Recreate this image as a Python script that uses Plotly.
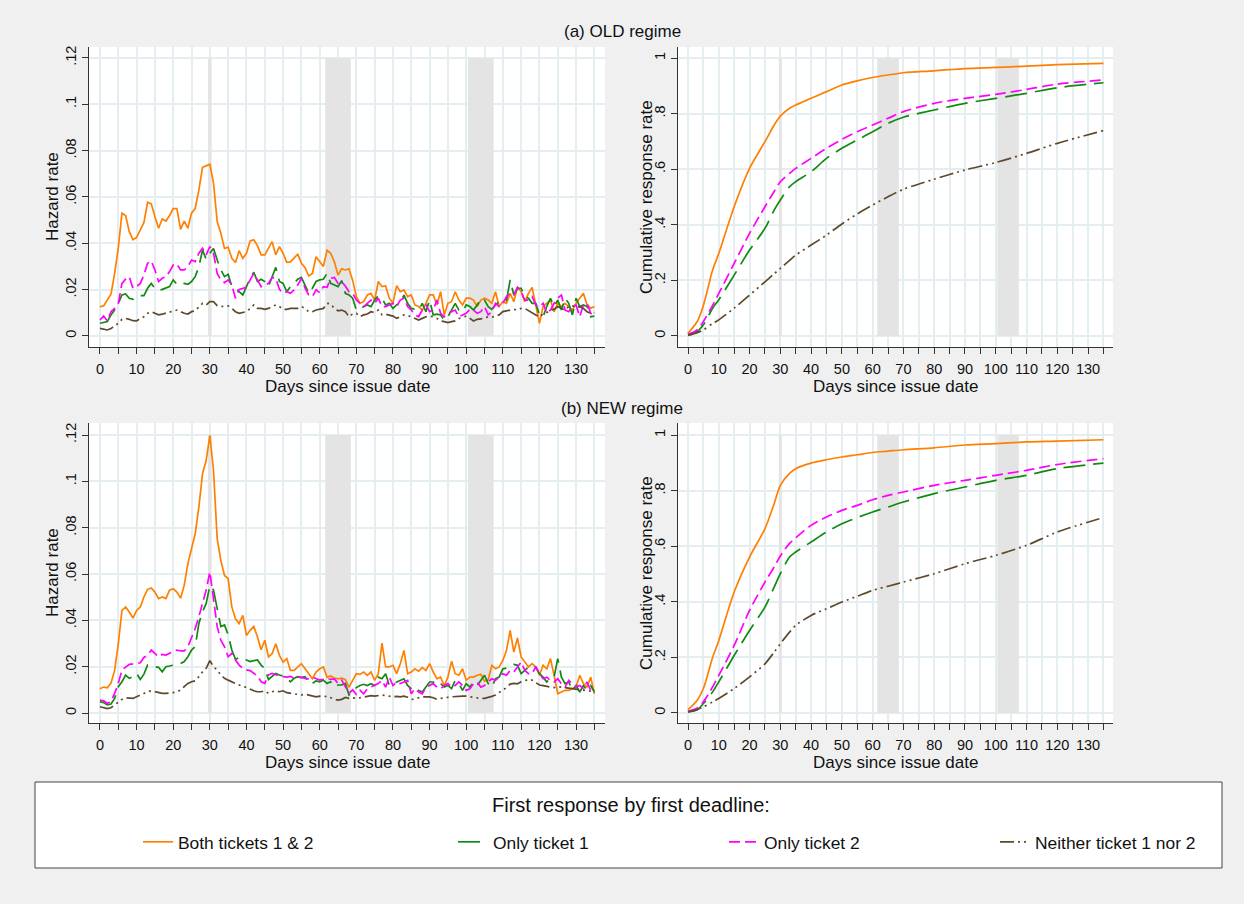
import plotly.graph_objects as go

# ---------------- data ----------------
days = list(range(136))

# Hazard rates, OLD regime
old_both_haz = [0.0127, 0.0130, 0.0155, 0.0180, 0.0270, 0.0380, 0.0530, 0.0520, 0.0450, 0.0415,
                0.0425, 0.0460, 0.0490, 0.0577, 0.0570, 0.0515, 0.0465, 0.0505, 0.0496, 0.0520,
                0.0550, 0.0550, 0.0460, 0.0496, 0.0465, 0.0530, 0.0550, 0.0630, 0.0728, 0.0734,
                0.0741, 0.0660, 0.0494, 0.0443, 0.0378, 0.0383, 0.0335, 0.0317, 0.0368, 0.0335,
                0.0357, 0.0410, 0.0415, 0.0390, 0.0350, 0.0350, 0.0378, 0.0407, 0.0350, 0.0386,
                0.0357, 0.0318, 0.0320, 0.0335, 0.0353, 0.0314, 0.0295, 0.0259, 0.0270, 0.0342,
                0.0320, 0.0300, 0.0370, 0.0357, 0.0320, 0.0263, 0.0290, 0.0285, 0.0290, 0.0240,
                0.0170, 0.0141, 0.0148, 0.0177, 0.0184, 0.0155, 0.0235, 0.0213, 0.0216, 0.0163,
                0.0141, 0.0217, 0.0191, 0.0199, 0.0170, 0.0177, 0.0134, 0.0127, 0.0112, 0.0141,
                0.0177, 0.0177, 0.0134, 0.0191, 0.0091, 0.0141, 0.0148, 0.0191, 0.0155, 0.0134,
                0.0163, 0.0163, 0.0155, 0.0127, 0.0155, 0.0163, 0.0155, 0.0141, 0.0191, 0.0127,
                0.0148, 0.0141, 0.0184, 0.0148, 0.0210, 0.0191, 0.0148, 0.0184, 0.0210, 0.0127,
                0.0055, 0.0127, 0.0141, 0.0155, 0.0105, 0.0141, 0.0127, 0.0141, 0.0127, 0.0112,
                0.0141, 0.0163, 0.0184, 0.0134, 0.0120, 0.0127]
old_t1_haz = [0.0055, 0.0058, 0.0062, 0.0091, 0.0112, 0.0141, 0.0177, 0.0181, 0.0163, 0.0158,
              0.0170, 0.0174, 0.0174, 0.0206, 0.0227, 0.0206, 0.0196, 0.0201, 0.0206, 0.0213,
              0.0242, 0.0223, 0.0220, 0.0227, 0.0223, 0.0235, 0.0256, 0.0299, 0.0371, 0.0331,
              0.0357, 0.0378, 0.0328, 0.0285, 0.0256, 0.0266, 0.0213, 0.0206, 0.0191, 0.0177,
              0.0213, 0.0249, 0.0275, 0.0235, 0.0245, 0.0235, 0.0213, 0.0253, 0.0296, 0.0235,
              0.0227, 0.0191, 0.0213, 0.0227, 0.0245, 0.0253, 0.0220, 0.0184, 0.0206, 0.0235,
              0.0242, 0.0245, 0.0270, 0.0227, 0.0220, 0.0213, 0.0239, 0.0184, 0.0177, 0.0163,
              0.0112, 0.0115, 0.0127, 0.0134, 0.0127, 0.0155, 0.0173, 0.0163, 0.0134, 0.0141,
              0.0119, 0.0134, 0.0141, 0.0177, 0.0141, 0.0119, 0.0115, 0.0112, 0.0141, 0.0105,
              0.0155, 0.0091, 0.0094, 0.0091, 0.0069, 0.0083, 0.0112, 0.0141, 0.0112, 0.0105,
              0.0134, 0.0127, 0.0112, 0.0134, 0.0163, 0.0155, 0.0127, 0.0115, 0.0134, 0.0148,
              0.0155, 0.0153, 0.0242, 0.0177, 0.0206, 0.0206, 0.0170, 0.0163, 0.0141, 0.0141,
              0.0091, 0.0083, 0.0127, 0.0163, 0.0127, 0.0155, 0.0112, 0.0163, 0.0141, 0.0091,
              0.0163, 0.0127, 0.0134, 0.0127, 0.0083, 0.0086]
old_t2_haz = [0.0069, 0.0086, 0.0065, 0.0105, 0.0119, 0.0141, 0.0227, 0.0245, 0.0256, 0.0206,
              0.0213, 0.0227, 0.0263, 0.0314, 0.0324, 0.0285, 0.0235, 0.0249, 0.0256, 0.0278,
              0.0306, 0.0311, 0.0285, 0.0285, 0.0299, 0.0328, 0.0321, 0.0357, 0.0378, 0.0350,
              0.0386, 0.0357, 0.0270, 0.0242, 0.0230, 0.0242, 0.0220, 0.0163, 0.0201, 0.0206,
              0.0210, 0.0242, 0.0270, 0.0242, 0.0213, 0.0220, 0.0227, 0.0253, 0.0249, 0.0201,
              0.0184, 0.0191, 0.0184, 0.0199, 0.0220, 0.0249, 0.0206, 0.0177, 0.0170, 0.0199,
              0.0187, 0.0213, 0.0210, 0.0249, 0.0253, 0.0227, 0.0233, 0.0216, 0.0191, 0.0184,
              0.0155, 0.0141, 0.0127, 0.0141, 0.0155, 0.0141, 0.0163, 0.0127, 0.0127, 0.0134,
              0.0141, 0.0127, 0.0155, 0.0163, 0.0127, 0.0112, 0.0091, 0.0083, 0.0112, 0.0134,
              0.0105, 0.0112, 0.0155, 0.0098, 0.0083, 0.0098, 0.0105, 0.0112, 0.0083, 0.0091,
              0.0098, 0.0115, 0.0112, 0.0098, 0.0105, 0.0127, 0.0091, 0.0105, 0.0141, 0.0127,
              0.0141, 0.0170, 0.0184, 0.0177, 0.0210, 0.0191, 0.0155, 0.0155, 0.0170, 0.0134,
              0.0127, 0.0141, 0.0098, 0.0112, 0.0141, 0.0163, 0.0177, 0.0112, 0.0105, 0.0127,
              0.0134, 0.0083, 0.0134, 0.0141, 0.0098, 0.0083]
old_none_haz = [0.0033, 0.0029, 0.0026, 0.0032, 0.0043, 0.0055, 0.0072, 0.0076, 0.0072, 0.0066,
                0.0065, 0.0076, 0.0083, 0.0098, 0.0105, 0.0098, 0.0091, 0.0094, 0.0098, 0.0105,
                0.0109, 0.0112, 0.0105, 0.0098, 0.0095, 0.0105, 0.0109, 0.0127, 0.0141, 0.0134,
                0.0148, 0.0148, 0.0131, 0.0127, 0.0127, 0.0130, 0.0119, 0.0105, 0.0098, 0.0101,
                0.0105, 0.0119, 0.0134, 0.0119, 0.0119, 0.0115, 0.0119, 0.0127, 0.0134, 0.0127,
                0.0115, 0.0115, 0.0119, 0.0119, 0.0119, 0.0127, 0.0119, 0.0105, 0.0105, 0.0112,
                0.0115, 0.0119, 0.0141, 0.0138, 0.0119, 0.0109, 0.0112, 0.0105, 0.0083, 0.0095,
                0.0098, 0.0083, 0.0091, 0.0095, 0.0105, 0.0101, 0.0112, 0.0091, 0.0094, 0.0091,
                0.0086, 0.0076, 0.0083, 0.0091, 0.0089, 0.0083, 0.0076, 0.0069, 0.0076, 0.0083,
                0.0086, 0.0083, 0.0076, 0.0065, 0.0062, 0.0058, 0.0062, 0.0065, 0.0075, 0.0081,
                0.0086, 0.0076, 0.0065, 0.0072, 0.0075, 0.0076, 0.0083, 0.0081, 0.0086, 0.0091,
                0.0105, 0.0109, 0.0112, 0.0115, 0.0112, 0.0119, 0.0119, 0.0109, 0.0101, 0.0091,
                0.0083, 0.0095, 0.0101, 0.0112, 0.0115, 0.0127, 0.0119, 0.0112, 0.0127, 0.0130,
                0.0124, 0.0127, 0.0119, 0.0105, 0.0098, 0.0101]

# Hazard rates, NEW regime
new_both_haz = [0.0105, 0.0112, 0.0109, 0.0129, 0.0184, 0.0299, 0.0443, 0.0458, 0.0436, 0.0410,
                0.0443, 0.0458, 0.0501, 0.0534, 0.0540, 0.0522, 0.0494, 0.0501, 0.0494, 0.0530,
                0.0537, 0.0522, 0.0496, 0.0551, 0.0645, 0.0717, 0.0774, 0.0889, 0.1033, 0.1091,
                0.1199, 0.1047, 0.0753, 0.0659, 0.0594, 0.0580, 0.0458, 0.0407, 0.0386, 0.0422,
                0.0335, 0.0357, 0.0374, 0.0328, 0.0273, 0.0314, 0.0242, 0.0256, 0.0299, 0.0249,
                0.0220, 0.0235, 0.0184, 0.0184, 0.0199, 0.0213, 0.0191, 0.0170, 0.0148, 0.0177,
                0.0191, 0.0199, 0.0155, 0.0160, 0.0151, 0.0148, 0.0151, 0.0144, 0.0112, 0.0141,
                0.0170, 0.0167, 0.0177, 0.0163, 0.0177, 0.0141, 0.0170, 0.0302, 0.0199, 0.0199,
                0.0206, 0.0170, 0.0213, 0.0270, 0.0170, 0.0177, 0.0191, 0.0181, 0.0196, 0.0184,
                0.0213, 0.0177, 0.0148, 0.0155, 0.0119, 0.0155, 0.0224, 0.0170, 0.0163, 0.0191,
                0.0141, 0.0155, 0.0155, 0.0163, 0.0167, 0.0138, 0.0144, 0.0206, 0.0191, 0.0199,
                0.0227, 0.0270, 0.0357, 0.0263, 0.0324, 0.0242, 0.0220, 0.0199, 0.0213, 0.0199,
                0.0163, 0.0206, 0.0191, 0.0235, 0.0163, 0.0083, 0.0091, 0.0098, 0.0098, 0.0105,
                0.0112, 0.0163, 0.0127, 0.0112, 0.0155, 0.0083]
new_t1_haz = [0.0049, 0.0045, 0.0035, 0.0039, 0.0063, 0.0114, 0.0135, 0.0164, 0.0150, 0.0157,
              0.0171, 0.0145, 0.0168, 0.0207, 0.0203, 0.0200, 0.0197, 0.0178, 0.0200, 0.0203,
              0.0207, 0.0211, 0.0214, 0.0222, 0.0243, 0.0272, 0.0286, 0.0387, 0.0437, 0.0473,
              0.0550, 0.0531, 0.0445, 0.0373, 0.0380, 0.0337, 0.0272, 0.0232, 0.0240, 0.0232,
              0.0229, 0.0222, 0.0226, 0.0229, 0.0207, 0.0193, 0.0145, 0.0157, 0.0171, 0.0164,
              0.0160, 0.0150, 0.0135, 0.0150, 0.0157, 0.0154, 0.0157, 0.0128, 0.0128, 0.0139,
              0.0135, 0.0142, 0.0128, 0.0135, 0.0114, 0.0121, 0.0121, 0.0128, 0.0078, 0.0092,
              0.0110, 0.0119, 0.0124, 0.0119, 0.0127, 0.0119, 0.0155, 0.0148, 0.0170, 0.0119,
              0.0127, 0.0134, 0.0141, 0.0148, 0.0119, 0.0105, 0.0091, 0.0098, 0.0091, 0.0112,
              0.0134, 0.0134, 0.0119, 0.0127, 0.0112, 0.0119, 0.0105, 0.0141, 0.0127, 0.0098,
              0.0127, 0.0112, 0.0134, 0.0119, 0.0141, 0.0163, 0.0127, 0.0112, 0.0148, 0.0155,
              0.0191, 0.0194, 0.0206, 0.0210, 0.0206, 0.0170, 0.0184, 0.0199, 0.0206, 0.0199,
              0.0170, 0.0155, 0.0134, 0.0148, 0.0155, 0.0235, 0.0155, 0.0127, 0.0134, 0.0098,
              0.0119, 0.0091, 0.0119, 0.0098, 0.0119, 0.0091]
new_t2_haz = [0.0056, 0.0053, 0.0042, 0.0049, 0.0085, 0.0128, 0.0186, 0.0200, 0.0210, 0.0212,
              0.0214, 0.0217, 0.0240, 0.0250, 0.0272, 0.0258, 0.0243, 0.0253, 0.0250, 0.0258,
              0.0265, 0.0272, 0.0268, 0.0268, 0.0286, 0.0322, 0.0365, 0.0416, 0.0473, 0.0531,
              0.0610, 0.0488, 0.0373, 0.0315, 0.0286, 0.0243, 0.0258, 0.0229, 0.0207, 0.0193,
              0.0186, 0.0183, 0.0171, 0.0160, 0.0135, 0.0128, 0.0165, 0.0171, 0.0165, 0.0160,
              0.0157, 0.0155, 0.0158, 0.0150, 0.0155, 0.0153, 0.0150, 0.0148, 0.0155, 0.0150,
              0.0142, 0.0146, 0.0150, 0.0145, 0.0147, 0.0128, 0.0142, 0.0114, 0.0085, 0.0100,
              0.0080, 0.0098, 0.0083, 0.0105, 0.0112, 0.0119, 0.0127, 0.0141, 0.0112, 0.0155,
              0.0119, 0.0134, 0.0127, 0.0134, 0.0141, 0.0083, 0.0105, 0.0091, 0.0083, 0.0112,
              0.0119, 0.0127, 0.0112, 0.0105, 0.0119, 0.0127, 0.0112, 0.0119, 0.0134, 0.0119,
              0.0098, 0.0105, 0.0127, 0.0134, 0.0112, 0.0119, 0.0134, 0.0148, 0.0141, 0.0155,
              0.0170, 0.0163, 0.0184, 0.0177, 0.0199, 0.0220, 0.0184, 0.0170, 0.0170, 0.0199,
              0.0170, 0.0148, 0.0155, 0.0141, 0.0134, 0.0148, 0.0127, 0.0112, 0.0141, 0.0127,
              0.0112, 0.0119, 0.0105, 0.0134, 0.0098, 0.0105]
new_none_haz = [0.0027, 0.0023, 0.0019, 0.0023, 0.0035, 0.0049, 0.0059, 0.0066, 0.0063, 0.0063,
                0.0070, 0.0078, 0.0085, 0.0092, 0.0096, 0.0092, 0.0088, 0.0085, 0.0085, 0.0085,
                0.0088, 0.0092, 0.0099, 0.0114, 0.0128, 0.0135, 0.0139, 0.0157, 0.0178, 0.0193,
                0.0226, 0.0200, 0.0186, 0.0164, 0.0150, 0.0142, 0.0135, 0.0128, 0.0121, 0.0114,
                0.0111, 0.0102, 0.0096, 0.0092, 0.0092, 0.0096, 0.0085, 0.0092, 0.0096, 0.0092,
                0.0096, 0.0088, 0.0085, 0.0082, 0.0078, 0.0078, 0.0081, 0.0078, 0.0073, 0.0070,
                0.0073, 0.0070, 0.0073, 0.0066, 0.0059, 0.0056, 0.0059, 0.0067, 0.0063, 0.0066,
                0.0063, 0.0066, 0.0070, 0.0072, 0.0075, 0.0073, 0.0075, 0.0078, 0.0076, 0.0072,
                0.0070, 0.0072, 0.0070, 0.0073, 0.0068, 0.0059, 0.0060, 0.0066, 0.0070, 0.0070,
                0.0070, 0.0066, 0.0059, 0.0063, 0.0064, 0.0068, 0.0070, 0.0072, 0.0072, 0.0073,
                0.0073, 0.0070, 0.0066, 0.0066, 0.0063, 0.0063, 0.0066, 0.0072, 0.0078, 0.0088,
                0.0099, 0.0110, 0.0125, 0.0128, 0.0126, 0.0135, 0.0140, 0.0145, 0.0142, 0.0132,
                0.0121, 0.0118, 0.0114, 0.0112, 0.0110, 0.0114, 0.0112, 0.0110, 0.0106, 0.0104,
                0.0102, 0.0100, 0.0098, 0.0098, 0.0095, 0.0092]

# Cumulative response rates (read at selected days)
cum_days = [0, 3, 5, 8, 10, 15, 20, 25, 28, 30, 33, 35, 40, 45, 50, 55, 60, 65, 70, 80, 90, 100, 110, 120, 135]
old_both_cum = [0.010, 0.052, 0.110, 0.237, 0.297, 0.465, 0.603, 0.699, 0.759, 0.791, 0.819, 0.831, 0.855,
                0.879, 0.903, 0.918, 0.930, 0.939, 0.947, 0.954, 0.962, 0.966, 0.971, 0.976, 0.981]
old_t1_cum = [0.005, 0.016, 0.040, 0.100, 0.130, 0.219, 0.309, 0.387, 0.453, 0.489, 0.537, 0.555, 0.591,
              0.639, 0.675, 0.705, 0.735, 0.765, 0.787, 0.813, 0.837, 0.855, 0.873, 0.893, 0.911]
old_t2_cum = [0.006, 0.022, 0.052, 0.110, 0.153, 0.261, 0.369, 0.465, 0.520, 0.555, 0.585, 0.603, 0.639,
              0.675, 0.707, 0.735, 0.759, 0.783, 0.807, 0.837, 0.855, 0.869, 0.887, 0.906, 0.921]
old_none_cum = [0.002, 0.012, 0.022, 0.045, 0.058, 0.100, 0.147, 0.195, 0.224, 0.243, 0.272, 0.291, 0.327,
                0.363, 0.403, 0.439, 0.471, 0.501, 0.528, 0.564, 0.597, 0.624, 0.657, 0.693, 0.739]
new_both_cum = [0.012, 0.046, 0.088, 0.200, 0.261, 0.435, 0.561, 0.663, 0.753, 0.819, 0.862, 0.879, 0.899,
                0.911, 0.921, 0.929, 0.937, 0.942, 0.947, 0.954, 0.964, 0.969, 0.975, 0.978, 0.983]
new_t1_cum = [0.004, 0.012, 0.034, 0.076, 0.112, 0.207, 0.297, 0.381, 0.453, 0.501, 0.561, 0.579, 0.615,
              0.651, 0.681, 0.703, 0.723, 0.741, 0.759, 0.789, 0.813, 0.837, 0.855, 0.879, 0.899]
new_t2_cum = [0.006, 0.018, 0.040, 0.094, 0.135, 0.243, 0.369, 0.471, 0.525, 0.565, 0.610, 0.630, 0.675,
              0.705, 0.729, 0.747, 0.767, 0.783, 0.795, 0.819, 0.837, 0.855, 0.873, 0.894, 0.915]
new_none_cum = [0.004, 0.012, 0.022, 0.040, 0.052, 0.088, 0.130, 0.177, 0.219, 0.249, 0.291, 0.315, 0.351,
                0.375, 0.399, 0.420, 0.441, 0.456, 0.471, 0.501, 0.537, 0.567, 0.603, 0.651, 0.703]

# Deadline windows (shaded)
deadline_windows = [(29.5, 30.5), (61.5, 68.5), (100.5, 107.5)]

series_names = ["Both tickets 1 & 2", "Only ticket 1", "Only ticket 2", "Neither ticket 1 nor 2"]
hazard_y_ticks = [0, 0.02, 0.04, 0.06, 0.08, 0.10, 0.12]
hazard_y_labels = ["0", ".02", ".04", ".06", ".08", ".1", ".12"]
cum_y_ticks = [0, 0.2, 0.4, 0.6, 0.8, 1.0]
cum_y_labels = ["0", ".2", ".4", ".6", ".8", "1"]

# ---------------- styles ----------------
FONT = "Liberation Sans, Arial, Helvetica, sans-serif"
styles = [
    dict(color="#FF8000", width=1.7, dash="solid"),
    dict(color="#118A11", width=1.7, dash="22px,8px"),
    dict(color="#FF00FF", width=1.7, dash="11px,5px"),
    dict(color="#5E4A2A", width=1.7, dash="14px,4px,2px,4px,2px,4px"),
]
W, H = 1244, 904
GRID = "#E4EDEF"
AXC = "#333333"


def px2fx(px):
    return px / W


def py2fy(py):
    return 1 - py / H


fig = go.Figure()

legend_ids = ["legend", "legend2", "legend3", "legend4"]

panels = [
    ("x", "y", [old_both_haz, old_t1_haz, old_t2_haz, old_none_haz], "haz"),
    ("x2", "y2", [old_both_cum, old_t1_cum, old_t2_cum, old_none_cum], "cum"),
    ("x3", "y3", [new_both_haz, new_t1_haz, new_t2_haz, new_none_haz], "haz"),
    ("x4", "y4", [new_both_cum, new_t1_cum, new_t2_cum, new_none_cum], "cum"),
]

for pi, (xa, ya, sers, kind) in enumerate(panels):
    for si, vals in enumerate(sers):
        xs = days if kind == "haz" else cum_days
        fig.add_trace(go.Scatter(
            x=xs, y=vals, xaxis=xa, yaxis=ya, mode="lines",
            line=dict(color=styles[si]["color"], width=styles[si]["width"], dash=styles[si]["dash"],
                      shape="linear" if kind == "haz" else "spline", smoothing=0.8),
            name=series_names[si], legendgroup=series_names[si], legend=legend_ids[si],
            showlegend=(pi == 0), hoverinfo="skip",
        ))
    ymax = hazard_y_ticks[-1] if kind == "haz" else cum_y_ticks[-1]
    for (a, b) in deadline_windows:
        fig.add_shape(type="rect", xref=xa, yref=ya, x0=a, x1=b, y0=0, y1=ymax,
                      fillcolor="#E4E4E4", line=dict(width=0), layer="between")

# ---------------- axes ----------------
left_dom = [px2fx(89), px2fx(605)]
right_dom = [px2fx(678), px2fx(1113)]
top_dom = [py2fy(347), py2fy(47)]
bot_dom = [py2fy(723), py2fy(423)]


def xaxis(dom, rng, anchor):
    return dict(domain=dom, range=rng, anchor=anchor, tick0=0, dtick=10,
                ticks="outside", ticklen=6, tickcolor=AXC, tickwidth=1, ticklabelstandoff=3,
                showline=True, linecolor=AXC, linewidth=1, mirror=False,
                showgrid=True, gridcolor=GRID, gridwidth=1.6, zeroline=False,
                tickfont=dict(family=FONT, size=14.5, color="#111"),
                minor=dict(tick0=0, dtick=5, ticks="outside", ticklen=6, tickcolor=AXC,
                           showgrid=True, gridcolor=GRID, gridwidth=1.6))


def yaxis(dom, rng, anchor, tv, tt):
    return dict(domain=dom, range=rng, anchor=anchor, tickvals=tv, ticktext=tt,
                tickangle=-90, ticks="outside", ticklen=6, tickcolor=AXC, tickwidth=1,
                showline=True, linecolor=AXC, linewidth=1,
                showgrid=True, gridcolor=GRID, gridwidth=1.6, zeroline=False,
                tickfont=dict(family=FONT, size=14.5, color="#111"))


haz_rng_top = [-0.00475, 0.1247]
haz_rng_bot = [-0.0043, 0.1252]
cum_rng_top = [-0.0396, 1.0396]
cum_rng_bot = [-0.036, 1.0432]

fig.update_layout(
    xaxis=xaxis(left_dom, [-3.0, 137.9], "y"),
    yaxis=yaxis(top_dom, haz_rng_top, "x", hazard_y_ticks, hazard_y_labels),
    xaxis2=xaxis(right_dom, [-3.25, 138.1], "y2"),
    yaxis2=yaxis(top_dom, cum_rng_top, "x2", cum_y_ticks, cum_y_labels),
    xaxis3=xaxis(left_dom, [-3.0, 137.9], "y3"),
    yaxis3=yaxis(bot_dom, haz_rng_bot, "x3", hazard_y_ticks, hazard_y_labels),
    xaxis4=xaxis(right_dom, [-3.25, 138.1], "y4"),
    yaxis4=yaxis(bot_dom, cum_rng_bot, "x4", cum_y_ticks, cum_y_labels),
)

# ---------------- text ----------------
ann = []


def add_text(txt, px, py, size=17, angle=0):
    ann.append(dict(text=txt, x=px2fx(px), y=py2fy(py), xref="paper", yref="paper",
                    showarrow=False, textangle=angle, xanchor="center", yanchor="middle",
                    font=dict(family=FONT, size=size, color="#111")))


add_text("(a) OLD regime", 622, 31)
add_text("(b) NEW regime", 622, 408)
for cy in (386, 762):
    add_text("Days since issue date", 347, cy, size=17)
    add_text("Days since issue date", 895, cy, size=17)
for cy in (197, 573):
    add_text("Hazard rate", 52, cy, angle=-90)
    add_text("Cumulative response rate", 646, cy, angle=-90)
# legend heading
add_text("First response by first deadline:", 631, 805, size=20)

# legend frame
fig.add_shape(type="rect", xref="paper", yref="paper",
              x0=px2fx(35), x1=px2fx(1222), y0=py2fy(868), y1=py2fy(782),
              fillcolor="white", line=dict(color="#444", width=1), layer="below")

# one legend per entry, placed at the reference's entry positions
legend_text_starts = [178, 493, 764, 1035]
legend_layouts = {}
for lid, tx in zip(legend_ids, legend_text_starts):
    legend_layouts[lid] = dict(orientation="h", x=px2fx(tx - 40), xanchor="left",
                               y=py2fy(842), yanchor="middle",
                               bgcolor="rgba(0,0,0,0)", borderwidth=0,
                               font=dict(family=FONT, size=17.4, color="#111"),
                               itemwidth=30)

fig.update_layout(
    width=W, height=H,
    margin=dict(l=0, r=0, t=0, b=0),
    paper_bgcolor="#F0F0F0",
    plot_bgcolor="white",
    annotations=ann,
    font=dict(family=FONT, color="#111"),
    **legend_layouts,
)

fig.write_html("out.html", config={"displayModeBar": False},
               post_script="document.body.style.margin='0';document.body.style.overflow='hidden';")
